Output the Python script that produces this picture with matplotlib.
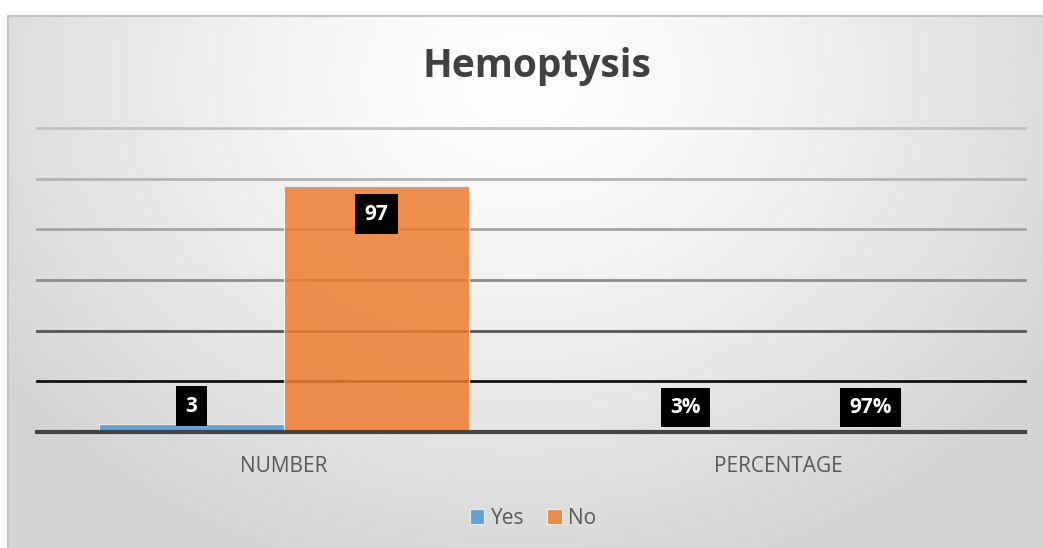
import numpy as np
import matplotlib.pyplot as plt

# dati
categorie = ['NUMBER', 'PERCENTAGE']
serie = ['Yes', 'No']
valori_yes = [3, 0.03]
valori_no = [97, 0.97]
etichette_yes = ['3', '3%']
etichette_no = ['97', '97%']
colori = ['#5b9bd5', '#ed7d31']

plt.rcParams['font.family'] = ['Open Sans', 'DejaVu Sans']

fig = plt.figure(figsize=(10.43, 5.48), dpi=100)

# sfondo con gradiente radiale (area grafico)
bg = fig.add_axes([0, 0, 1, 1])
W, H = 1043, 548
xx, yy = np.meshgrid(np.arange(W), np.arange(H))
r = np.sqrt(((xx - 520) / 640.0) ** 2 + ((yy - 80) / 520.0) ** 2)
v = 1 - 0.17 * np.clip(r, 0, 1) ** 1.3
img = np.dstack([v, v, v])
img[:15, :, :] = 1.0
img[:, :7, :] = 1.0
bg.imshow(img, extent=[0, W, H, 0], aspect='auto', interpolation='bilinear')
bg.plot([7.5, 7.5], [16, H], color='#c4c4c4', lw=1.5, solid_capstyle='butt')
bg.plot([7, W], [15.5, 15.5], color='#c4c4c4', lw=1.5, solid_capstyle='butt')
bg.set_xlim(0, W)
bg.set_ylim(H, 0)
bg.axis('off')

ax = fig.add_axes([37 / W, 1 - 432 / H, (1025 - 37) / W, (432 - 128) / H])
ax.patch.set_alpha(0)

# griglia con colori diversi (effetto sfumato)
livelli = [20, 40, 60, 80, 100, 120]
colori_griglia = ['#121212', '#555555', '#8c8c8c', '#a4a4a4', '#b4b4b4', '#c2c2c2']
for liv, c in zip(livelli, colori_griglia):
    ax.axhline(liv, color=c, lw=2, zorder=1, clip_on=False)
ax.axhline(0, color='#444444', lw=3, zorder=4, clip_on=False)

x = np.arange(len(categorie))
w = 0.375
b1 = ax.bar(x - w / 2, valori_yes, w, color=colori[0], alpha=0.9, edgecolor='#f2f2f2',
            linewidth=0.8, zorder=2, label=serie[0])
b2 = ax.bar(x + w / 2, valori_no, w, color=colori[1], alpha=0.85, edgecolor='#f8f8f8',
            linewidth=0.8, zorder=2, label=serie[1])

box = dict(boxstyle='square,pad=0.45', fc='black', ec='none')
for barre, etich in [(b1, etichette_yes), (b2, etichette_no)]:
    for rect, t in zip(barre, etich):
        cx = rect.get_x() + rect.get_width() / 2
        h = rect.get_height()
        if h > 50:
            ax.annotate(t, (cx, h), xytext=(0, -12.5), textcoords='offset points',
                        ha='center', va='top', color='white', fontsize=15,
                        fontweight='bold', bbox=box, zorder=5)
        else:
            ax.annotate(t, (cx, max(h, 2.5)), xytext=(0, 5.6), textcoords='offset points',
                        ha='center', va='bottom', color='white', fontsize=15,
                        fontweight='bold', bbox=box, zorder=5)

ax.set_xlim(-0.5, 1.5)
ax.set_ylim(0, 120)
ax.set_yticks([])
ax.set_xticks(x)
ax.set_xticklabels(categorie, fontsize=15, color='#595959')
ax.tick_params(axis='x', length=0, pad=17)
for s in ax.spines.values():
    s.set_visible(False)

fig.text(0.515, 1 - 66 / H, 'Hemoptysis', ha='center', va='center', fontsize=28,
         fontweight='bold', color='#404040')

leg = fig.legend(handles=[b1, b2], labels=serie, loc='center', bbox_to_anchor=(0.511, 1 - 518 / H),
                 ncol=2, frameon=False, fontsize=15, handlelength=0.7, handleheight=0.7,
                 handletextpad=0.3, columnspacing=1.1, labelcolor='#595959')

plt.savefig('out.png', dpi=100)
